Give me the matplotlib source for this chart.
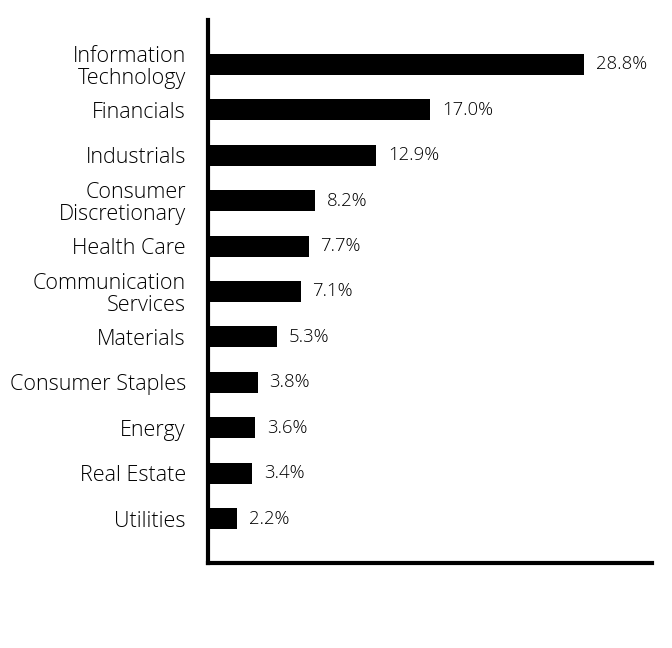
import numpy as np
import matplotlib.pyplot as plt

plt.rcParams['font.family'] = ['Open Sans', 'DejaVu Sans']

sectors = ["Information\nTechnology", "Financials", "Industrials",
           "Consumer\nDiscretionary", "Health Care", "Communication\nServices",
           "Materials", "Consumer Staples", "Energy", "Real Estate", "Utilities"]
weights = [28.8, 17.0, 12.9, 8.2, 7.7, 7.1, 5.3, 3.8, 3.6, 3.4, 2.2]

fig = plt.figure(figsize=(6.72, 6.48), dpi=100)
ax = fig.add_axes([208 / 672, 1 - 563 / 648, 444 / 672, 543 / 648])

y = np.arange(len(sectors))
ax.barh(y, weights, height=0.46, color='black')

for yi, w in zip(y, weights):
    ax.annotate(f"{w:.1f}%", (w, yi), xytext=(8.5, 0), textcoords='offset points',
                va='center', ha='left', fontsize=13.3, fontweight='light',
                color='black')

ax.set_yticks(y)
ax.set_yticklabels(sectors, fontsize=15.5, linespacing=1.05, color='black',
                   fontweight='light')
ax.set_ylim(len(sectors) - 0.02, -0.98)
ax.set_xlim(0, 34)
ax.set_xticks([])
ax.tick_params(axis='y', length=0, pad=16)

for side in ['top', 'right']:
    ax.spines[side].set_visible(False)
for side in ['left', 'bottom']:
    ax.spines[side].set_linewidth(3)
    ax.spines[side].set_color('black')

fig.savefig('out.png', dpi=100)
